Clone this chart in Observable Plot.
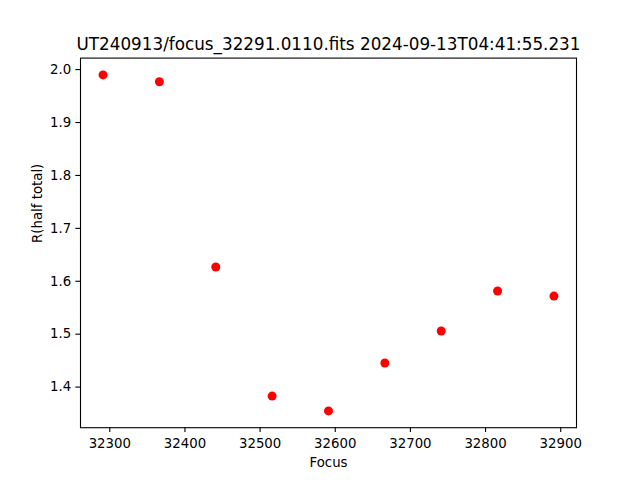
<!DOCTYPE html>
<html>
<head>
<meta charset="utf-8">
<script src="https://cdn.jsdelivr.net/npm/d3@7"></script>
<script src="https://cdn.jsdelivr.net/npm/@observablehq/plot@0.6"></script>
<style>
  html, body { margin: 0; padding: 0; background: #fff; }
  svg { display: block; }
</style>
</head>
<body>
<div id="chart"></div>
<script>
const titleText = "UT240913/focus_32291.0110.fits 2024-09-13T04:41:55.231";
const xLabel = "Focus";
const yLabel = "R(half total)";
const focus = [32291, 32366, 32441, 32516, 32591, 32666, 32741, 32816, 32891];
const rHalf = [1.990, 1.977, 1.627, 1.383, 1.355, 1.4455, 1.506, 1.5815, 1.572];
const xTicks = [32300, 32400, 32500, 32600, 32700, 32800, 32900];
const yTicks = [1.4, 1.5, 1.6, 1.7, 1.8, 1.9, 2.0];

const data = focus.map((f, i) => ({focus: f, r: rHalf[i]}));
function padded(arr) {
  const [a, b] = d3.extent(arr);
  const p = (b - a) * 0.05;
  return [a - p, b + p];
}
const font = "DejaVu Sans, sans-serif";

const chart = Plot.plot({
  width: 640,
  height: 480,
  marginLeft: 80,
  marginRight: 64,
  marginTop: 57.6,
  marginBottom: 52.8,
  style: {fontFamily: font, background: "#fff", color: "#000"},
  x: {domain: padded(focus)},
  y: {domain: padded(rHalf)},
  marks: [
    Plot.frame({stroke: "#000", strokeWidth: 1.1}),
    Plot.axisX({ticks: xTicks, tickFormat: d3.format("d"), tickSize: 4.7, tickPadding: 6.5, fontSize: 13.3, label: null, strokeWidth: 1.1}),
    Plot.axisY({ticks: yTicks, tickFormat: d3.format(".1f"), tickSize: 4.7, tickPadding: 4.7, fontSize: 13.3, label: null, strokeWidth: 1.1}),
    Plot.dot(data, {x: "focus", y: "r", r: 4.5, fill: "#ff0000", stroke: "none"}),
    Plot.text([titleText], {frameAnchor: "top", lineAnchor: "bottom", dy: -8.6, fontSize: 16.8, fill: "#000"}),
    Plot.text([xLabel], {frameAnchor: "bottom", lineAnchor: "bottom", dy: 38.8, fontSize: 13.3, fill: "#000"}),
    Plot.text([yLabel], {frameAnchor: "left", lineAnchor: "bottom", dx: -39, rotate: -90, fontSize: 13.3, fill: "#000"})
  ]
});
document.getElementById("chart").appendChild(chart);
</script>
</body>
</html>
